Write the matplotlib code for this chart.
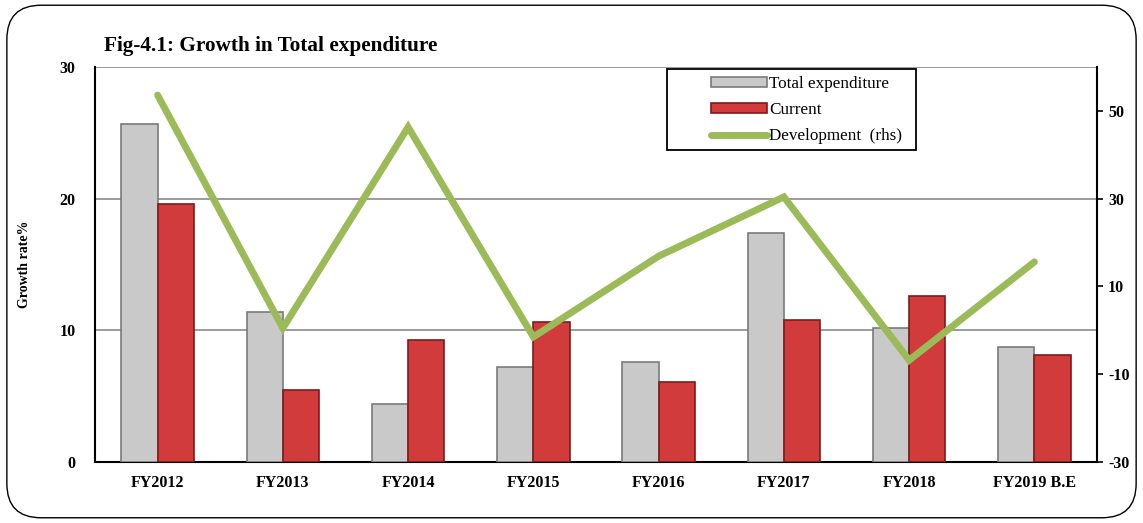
import numpy as np
import matplotlib.pyplot as plt
from matplotlib.patches import FancyBboxPatch, Rectangle

# values
years = ["FY2012", "FY2013", "FY2014", "FY2015", "FY2016", "FY2017", "FY2018", "FY2019 B.E"]
total_exp = [25.7, 11.4, 4.4, 7.2, 7.6, 17.4, 10.2, 8.7]
current = [19.6, 5.5, 9.3, 10.6, 6.1, 10.8, 12.6, 8.1]
development = [53.6, 0.5, 46.3, -1.5, 16.9, 30.4, -6.8, 15.6]

plt.rcParams['font.family'] = ['Liberation Serif', 'DejaVu Serif']
plt.rcParams['font.weight'] = 'bold'
plt.rcParams['axes.unicode_minus'] = False

fig = plt.figure(figsize=(11.43, 5.23), dpi=100)
ax = fig.add_axes([0.0831, 0.1166, 0.8767, 0.7553])

# rounded frame round the whole chart
frame = FancyBboxPatch((0.006, 0.01), 0.988, 0.98, boxstyle="round,pad=0,rounding_size=0.03",
                       transform=fig.transFigure, fill=False, edgecolor='black', linewidth=1.0,
                       mutation_aspect=1143 / 523)
fig.patches.append(frame)

x = np.arange(len(years))
w = 0.29
ax.bar(x - w / 2, total_exp, w, color='#c9c9c9', edgecolor='#7a7a7a', linewidth=1.2,
       label='Total expenditure', zorder=3)
ax.bar(x + w / 2, current, w, color='#d23b3b', edgecolor='#7e1b1b', linewidth=1.2,
       label='Current', zorder=3)

ax.set_ylim(0, 30)
ax.set_xlim(-0.5, 7.5)
ax.set_yticks([0, 10, 20, 30])
ax.set_xticks(x)
ax.set_xticklabels(years, fontsize=11.5, fontweight='bold')
ax.tick_params(axis='y', labelsize=11.5, length=0, pad=14)
ax.tick_params(axis='x', length=0, pad=9)
for v in [10, 20, 30]:
    ax.axhline(v, color='#8a8a8a', linewidth=1.2, zorder=1)
ax.spines['top'].set_visible(False)
ax.spines['right'].set_visible(False)
ax.spines['left'].set_linewidth(1.5)
ax.spines['bottom'].set_linewidth(1.5)
ax.set_ylabel('Growth rate%', fontsize=10, fontweight='bold')
ax.yaxis.set_label_coords(-0.064, 0.5)

ax2 = ax.twinx()
ax2.plot(x, development, color='#9bbb59', linewidth=5, label='Development  (rhs)',
         solid_capstyle='round', solid_joinstyle='miter', zorder=4)
ax2.set_ylim(-30, 60)
ax2.set_yticks([-30, -10, 10, 30, 50])
ax2.tick_params(axis='y', labelsize=11.5, length=4, width=1.2, direction='out', pad=4)
ax2.spines['right'].set_linewidth(1.5)
ax2.spines['top'].set_visible(False)
ax2.spines['left'].set_visible(False)
ax2.spines['bottom'].set_visible(False)

# legend box drawn separately so the entries can sit indented like the original
ax2.add_patch(Rectangle((0.571, 0.79), 0.2485, 0.205, transform=ax2.transAxes,
                        fill=True, facecolor='white', edgecolor='black', linewidth=1.3, zorder=5))
h1, l1 = ax.get_legend_handles_labels()
h2, l2 = ax2.get_legend_handles_labels()
leg = ax2.legend(h1 + h2, l1 + l2, loc='upper left', bbox_to_anchor=(0.608, 0.995),
                 frameon=False,
                 prop={'family': 'Liberation Serif', 'weight': 'normal', 'size': 12.3},
                 handlelength=3.3, handleheight=0.5, handletextpad=0.1,
                 borderpad=0.4, labelspacing=0.6, borderaxespad=0)
leg.set_zorder(6)

fig.text(0.091, 0.902, 'Fig-4.1: Growth in Total expenditure', fontsize=15.3, fontweight='bold')

fig.savefig('out.png', dpi=100)
